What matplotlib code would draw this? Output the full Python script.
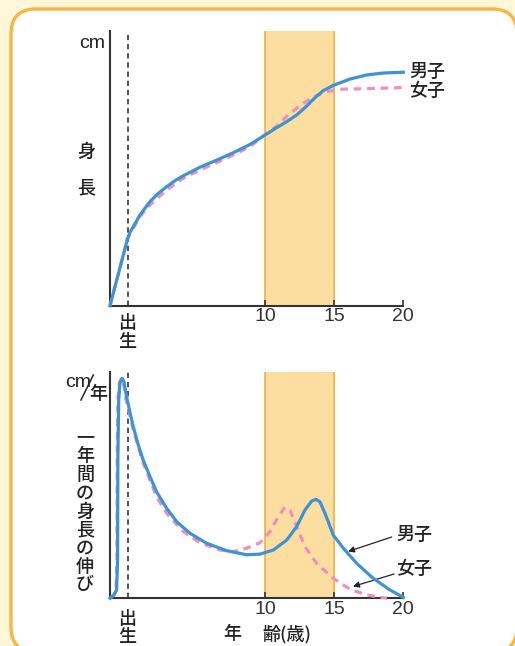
import matplotlib
matplotlib.use("Agg")
import matplotlib.pyplot as plt
from matplotlib.patches import FancyBboxPatch

plt.rcParams['font.family'] = ['Noto Sans CJK JP', 'DejaVu Sans']

W, H = 515, 646

# Height curve (age in years, relative height)
age_h_boy = [-1.28, 0.0, 0.17, 0.41, 0.89, 1.62, 2.22, 2.83, 3.43, 4.04, 5.25, 6.46,
             7.67, 8.88, 9.77, 10.81, 11.54, 12.26, 12.99, 13.59, 14.19, 14.92,
             16.13, 17.34, 18.55, 20.0]
h_boy = [0, 24.5, 26.7, 28.8, 33.0, 37.9, 40.9, 43.3, 45.5, 47.3, 50.4, 53.0,
         55.7, 58.7, 61.5, 64.8, 67.0, 69.4, 72.7, 75.7, 78.3, 80.2,
         82.5, 84.0, 84.7, 85.0]
age_h_girl = [-1.28, 0.0, 0.41, 0.89, 1.62, 2.83, 4.04, 5.25, 6.46, 7.67, 8.88, 9.77,
              10.81, 11.78, 12.75, 13.59, 14.44, 15.41, 17.34, 20.0]
h_girl = [0, 24.5, 28.2, 32.4, 36.7, 42.1, 46.4, 49.4, 52.1, 54.9, 57.9, 61.5,
          65.4, 70.0, 73.7, 76.3, 77.9, 78.8, 79.0, 79.4]

# Yearly growth curve
age_v_boy = [-1.28, -0.99, -0.80, -0.73, -0.71, -0.65, -0.56, -0.41, -0.27, -0.08,
             0.16, 0.41, 0.77, 1.13, 1.62, 2.10, 2.83, 3.56, 4.52, 5.73, 7.18, 8.64,
             9.60, 10.57, 11.54, 12.26, 12.87, 13.35, 13.66, 13.95, 14.32, 14.92,
             15.65, 16.62, 17.82, 19.03, 20.0]
v_boy = [0, 1.5, 3.7, 16.9, 61, 87.5, 94.9, 97.1, 95.6, 89,
         82.3, 75.7, 67.7, 61, 53.7, 47.0, 39.7, 33.8, 28.7, 24.3, 21.0, 19.2,
         19.5, 21.3, 25.7, 31.6, 39.0, 42.9, 43.7, 42.6, 37.5, 27.9,
         22.1, 15.4, 8.8, 3.7, 0.4]
age_v_girl = [-1.28, -0.99, -0.85, -0.78, -0.76, -0.71, -0.61, -0.46, -0.32, -0.13,
              0.41, 1.13, 2.10, 2.83, 4.04, 5.25, 6.70, 7.67, 8.64, 9.60, 10.33,
              10.93, 11.41, 11.78, 12.26, 12.87, 13.71, 14.92, 16.13, 17.34, 18.8]
v_girl = [0, 1.5, 3.7, 16.9, 61, 87.5, 94.9, 97.1, 95.6, 88.3,
          74.3, 59.6, 44.8, 37.5, 29.4, 24.5, 21.3, 20.6, 22.1, 24.5, 29.4,
          36.0, 40.2, 39.0, 31.6, 22.8, 15.4, 8.8, 4.0, 1.5, 0]

ticks = [10, 15, 20]
blue = '#3C93D5'
pink = '#F28DC0'
band = '#FCDFA0'
band_edge = '#F6B347'
latin = 'Liberation Sans'


def fx(x):
    return x / W


def fy(y):
    return 1 - y / H


fig = plt.figure(figsize=(W / 100, H / 100), dpi=100, facecolor='#FEF8D8')

bg = fig.add_axes([0, 0, 1, 1], zorder=0)
bg.set_xlim(0, W)
bg.set_ylim(H, 0)
bg.axis('off')
bg.add_patch(FancyBboxPatch((11, 9), 506, 643, boxstyle='round,pad=0,rounding_size=25',
                            facecolor='white', edgecolor='#FBB443', lw=2.4))


def make_axes(top, bottom):
    ax = fig.add_axes([fx(110), fy(bottom), fx(403.3 - 110), (bottom - top) / H], zorder=2)
    ax.set_facecolor('none')
    ax.set_xlim(-1.28, 20)
    ax.set_ylim(0, 100)
    for s in ['top', 'right']:
        ax.spines[s].set_visible(False)
    for s in ['left', 'bottom']:
        ax.spines[s].set_color('#333333')
        ax.spines[s].set_linewidth(1.5)
    ax.set_xticks(ticks)
    ax.set_xticklabels([str(t) for t in ticks], fontsize=14, color='#222222', family=latin)
    ax.tick_params(axis='x', direction='in', length=4, width=1.2, pad=2, colors='#333333')
    ax.set_yticks([])
    ax.axvspan(10, 15, color=band, lw=0, zorder=0)
    ax.axvline(10, color=band_edge, lw=1.3, zorder=1)
    ax.axvline(15, color=band_edge, lw=1.3, zorder=1)
    ax.axvline(0, color='#222222', lw=1.1, ls=(0, (3.5, 2.5)), zorder=2)
    return ax


line_kw = dict(lw=2.3, clip_on=False, solid_joinstyle='round', dash_joinstyle='round')

ax1 = make_axes(31, 305.7)
ax1.plot(age_h_boy, h_boy, color=blue, zorder=4, **line_kw)
ax1.plot(age_h_girl, h_girl, color=pink, ls=(0, (2.4, 1.8)), zorder=3, **line_kw)

ax2 = make_axes(371.7, 598.3)
ax2.plot(age_v_boy, v_boy, color=blue, zorder=4, **line_kw)
ax2.plot(age_v_girl, v_girl, color=pink, ls=(0, (2.4, 1.8)), zorder=3, **line_kw)

tc = '#222222'


def txt(x, y, s, size=13, **kw):
    kw.setdefault('fontweight', 'medium')
    fig.text(fx(x), fy(y), s, fontsize=size, color=tc, ha='center', va='center', zorder=5, **kw)


# top panel labels
txt(92, 44, 'cm', 14, family=latin, fontweight='normal')
txt(86, 152, '身')
txt(86, 188, '長')
txt(427, 72, '男子')
txt(427, 91, '女子')
txt(127, 323, '出')
txt(127, 342, '生')

# bottom panel labels
txt(78, 382, 'cm', 14, family=latin, fontweight='normal')
bg.plot([93.3, 81], [375, 400], color=tc, lw=1.1)
txt(98, 394, '年')
for i, ch in enumerate('一年間の身長の伸び'):
    txt(85, 438 + i * 18.4, ch)
txt(127, 619, '出')
txt(127, 637, '生')
txt(232, 634, '年')
txt(287, 634, '齢(歳)')
txt(414, 535, '男子')
txt(414, 569, '女子')

arrow = dict(arrowstyle='-|>', color=tc, lw=0.9, mutation_scale=9, shrinkA=0, shrinkB=0)
bg.annotate('', xy=(348, 551.5), xytext=(391.7, 537), arrowprops=arrow, zorder=6)
bg.annotate('', xy=(353, 586.5), xytext=(394, 574), arrowprops=arrow, zorder=6)

fig.savefig('out.png', dpi=100, facecolor=fig.get_facecolor())
